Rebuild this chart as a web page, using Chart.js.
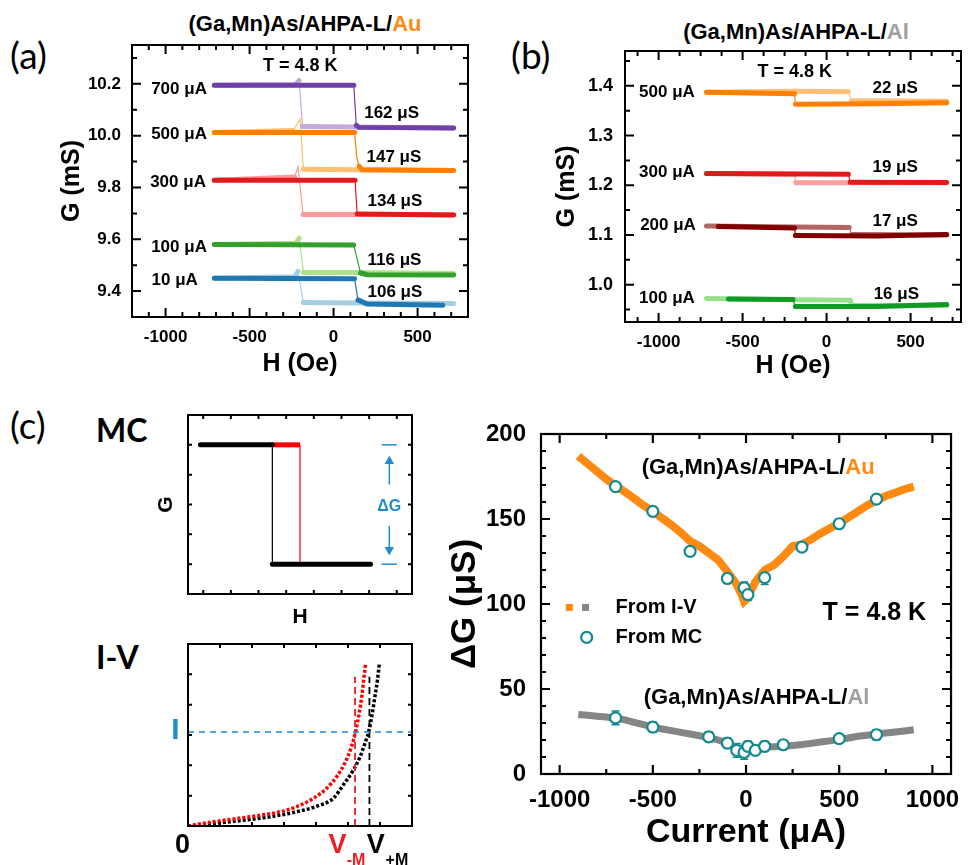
<!DOCTYPE html>
<html>
<head>
<meta charset="utf-8">
<script src="https://cdn.jsdelivr.net/npm/chart.js@4.4.0/dist/chart.umd.min.js"></script>
<style>
  body { margin: 0; background: #fff; }
  #fig { position: relative; width: 972px; height: 865px; overflow: hidden; background: #fff;
         font-family: "Liberation Sans", Arial, sans-serif; }
  canvas { position: absolute; }
  .lbl { position: absolute; white-space: nowrap; line-height: 1; color: #000; }
  .panel { font-family: Lato, "Open Sans", sans-serif; font-size: 37px; }
  .big { font-family: Lato, "Open Sans", sans-serif; font-size: 32px; font-weight: bold; }
  .ttl { font-weight: bold; font-size: 22px; transform: translateX(-50%); }
</style>
</head>
<body>
<div id="fig">
  <div class="lbl panel" style="left:10px;top:36px">(a)</div>
  <div class="lbl panel" style="left:511px;top:36px">(b)</div>
  <div class="lbl panel" style="left:10px;top:406px">(c)</div>
  <div class="lbl big" style="left:96px;top:414px">MC</div>
  <div class="lbl big" style="left:96px;top:641px">I-V</div>
  <div class="lbl ttl" style="left:305px;top:13px">(Ga,Mn)As/AHPA-L/<span style="color:#ff8a12">Au</span></div>
  <div class="lbl ttl" style="left:796px;top:21px">(Ga,Mn)As/AHPA-L/<span style="color:#a0a0a0">Al</span></div>

  <canvas id="chartA" width="490" height="385" style="left:0;top:0"></canvas>
  <canvas id="chartB" width="482" height="385" style="left:490px;top:0"></canvas>
  <canvas id="chartMC" width="270" height="230" style="left:150px;top:400px"></canvas>
  <canvas id="chartIV" width="270" height="235" style="left:150px;top:630px"></canvas>
  <canvas id="chartDG" width="532" height="465" style="left:440px;top:400px"></canvas>
</div>

<script>
const FONT = '"Liberation Sans", Arial, sans-serif';

// ---- panel (a): G vs H, Au contact. [H (Oe), G (mS)]
const fieldTicks = [-1000, -500, 0, 500];
const gTicksA = [9.4, 9.6, 9.8, 10.0, 10.2];

const a700Up = [[-710, 10.195], [120, 10.195], [135, 10.04], [150, 10.032], [715, 10.03]];
const a700Down = [[715, 10.03], [140, 10.033], [-185, 10.035], [-205, 10.213], [-228, 10.197], [-710, 10.195]];
const a500Up = [[-710, 10.012], [125, 10.012], [138, 9.914], [152, 9.882], [170, 9.868], [715, 9.866]];
const a500Down = [[715, 9.866], [140, 9.868], [-180, 9.87], [-200, 10.064], [-240, 10.02], [-710, 10.012]];
const a300Up = [[-710, 9.828], [128, 9.828], [140, 9.698], [715, 9.694]];
const a300Down = [[715, 9.695], [140, 9.696], [-182, 9.696], [-212, 9.88], [-232, 9.84], [-710, 9.828]];
const a100Up = [[-710, 9.58], [120, 9.578], [160, 9.47], [200, 9.463], [715, 9.462]];
const a100Down = [[715, 9.468], [140, 9.472], [-180, 9.472], [-205, 9.604], [-225, 9.585], [-710, 9.58]];
const a10Up = [[-710, 9.45], [125, 9.448], [145, 9.366], [200, 9.35], [650, 9.345]];
const a10Down = [[715, 9.352], [140, 9.354], [-180, 9.356], [-212, 9.476], [-230, 9.455], [-710, 9.45]];

// ---- panel (b): G vs H, Al contact
const gTicksB = [1.0, 1.1, 1.2, 1.3, 1.4];

const b500Up = [[-715, 1.387], [-190, 1.384], [-186, 1.363], [300, 1.364], [715, 1.366]];
const b500Down = [[715, 1.369], [150, 1.37], [128, 1.388], [-186, 1.389], [-715, 1.387]];
const b300Up = [[-715, 1.2235], [130, 1.222], [140, 1.206], [715, 1.2055]];
const b300Down = [[715, 1.205], [140, 1.205], [-183, 1.205], [-186, 1.222], [-715, 1.2235]];
const b200Up = [[-645, 1.117], [-190, 1.114], [-186, 1.099], [300, 1.098], [715, 1.101]];
const b200Down = [[715, 1.1], [150, 1.101], [135, 1.115], [-186, 1.116], [-715, 1.118]];
const b100Up = [[-585, 0.9715], [-200, 0.97], [-186, 0.956], [300, 0.956], [715, 0.96]];
const b100Down = [[715, 0.958], [150, 0.958], [140, 0.969], [-186, 0.9695], [-715, 0.9725]];

// ---- panel (c) schematics
const mcTicksX = [0, 1, 2, 3, 4, 5, 6, 7];
const mcTicksY = [0, 1, 2, 3, 4];
const mcHighA = [[-0.1, 4], [2.5, 4]];
const mcHighB = [[2.5, 4], [3.5, 4]];
const mcDropA = [[2.5, 4], [2.5, 0]];
const mcDropB = [[3.5, 4], [3.5, 0]];
const mcLow = [[2.5, 0], [6.05, 0]];
const dgTop = [[6.45, 4], [7.0, 4]];
const dgBottom = [[6.45, 0], [7.0, 0]];
const dgUp = [[6.73, 2.67], [6.73, 3.45]];
const dgDown = [[6.73, 1.28], [6.73, 0.48]];

const ivTicksX = [0, 1, 2, 3, 4, 5, 6, 7];
const ivTicksY = [0, 1, 2, 3, 4, 5, 6];
const ivMinus = [[0, 0], [0.79, 0.14], [1.83, 0.29], [2.88, 0.47], [3.4, 0.64], [3.92, 0.91], [4.33, 1.24],
  [4.65, 1.63], [4.9, 2.07], [5.11, 2.62], [5.25, 3.17], [5.35, 3.72], [5.43, 4.26], [5.49, 4.81], [5.55, 5.36]];
const ivPlus = [[0, 0], [1.31, 0.14], [2.35, 0.27], [3.4, 0.47], [4.13, 0.69], [4.54, 0.91], [4.85, 1.35],
  [5.17, 1.85], [5.38, 2.29], [5.53, 2.73], [5.66, 3.17], [5.76, 3.72], [5.84, 4.26], [5.92, 4.81], [5.98, 5.36]];
const biasLine = [[0, 3.1], [7, 3.1]];
const vMinusLine = [[5.22, 0], [5.22, 4.92]];
const vPlusLine = [[5.67, 0], [5.67, 4.92]];

// ---- panel (c) right: dG vs current
const currentTicks = [-1000, -500, 0, 500, 1000];
const dgTicks = [0, 50, 100, 150, 200];
const currentIV = [-900, -850, -800, -750, -700, -650, -600, -550, -500, -450, -400, -350, -300, -250, -200,
  -150, -100, -50, -20, -10, 0, 20, 50, 100, 150, 200, 250, 300, 350, 400, 450, 500, 550, 600, 650, 700,
  750, 800, 850, 900];
const auIV = [187, 182.5, 178, 173.5, 169.5, 166, 162, 158, 154.5, 150.5, 146.5, 142, 137, 134, 130,
  126, 119, 111.5, 104.5, 101.5, 102.5, 106.5, 113, 120, 123, 128, 134, 135, 138, 141.5, 144.5, 147.5,
  151, 154.5, 158, 161, 163.5, 165.5, 167.5, 169];
const alIV = [35, 34.5, 34, 33.5, 33, 31.8, 30.4, 29, 27.6, 26.5, 25.5, 24.5, 23.5, 22.5, 21.6,
  20, 18.2, 15.3, 13.5, 13, 12.7, 13.5, 14.7, 15.9, 16.1, 16.3, 16.8, 17.3, 18, 18.8, 19.5, 20.2,
  21.2, 22.2, 22.8, 23.5, 24.1, 24.7, 25.3, 26];
const currentMCAu = [-700, -500, -300, -100, -10, 10, 100, 300, 500, 700];
const auMC = [169, 154.5, 131, 115, 109.5, 105.5, 115.5, 133.5, 147.2, 161.7];
const auMCErr = [2, 2, 2, 2.5, 3.5, 3.5, 4, 2, 2, 2];
const currentMCAl = [-700, -500, -200, -100, -50, -10, 10, 50, 100, 200, 500, 700];
const alMC = [33, 27.6, 21.8, 18.2, 13.9, 12.7, 16.3, 13.9, 16.3, 17.2, 20.8, 23.1];
const alMCErr = [4, 3, 3, 3, 4, 4, 3, 2, 3, 2, 2, 3];

const ORANGE = '#ff8a12';
const GRAY = '#858585';
const TEAL = '#148a8e';
const BLUE = '#1f8bd0';
const RED = '#ee1c24';

// ---------- helpers ----------
const pts = arr => arr.map(p => ({ x: p[0], y: p[1] }));
const zip = (xs, ys) => xs.map((x, i) => ({ x, y: ys[i] }));

// thick plateaus, thin connecting lines where the curve jumps
function sweep(arr, color, order) {
  return {
    data: pts(arr), showLine: true, borderColor: color, backgroundColor: color,
    pointRadius: 0, borderWidth: 5, borderCapStyle: 'round', order,
    segment: { borderWidth: c => Math.abs(c.p0.y - c.p1.y) > 6 ? 1.2 : 5 }
  };
}

function plain(arr, color, width, extra) {
  return Object.assign({
    data: pts(arr), showLine: true, borderColor: color, backgroundColor: color,
    pointRadius: 0, borderWidth: width
  }, extra || {});
}

// frame with inward tick marks on all four sides
const framePlugin = {
  id: 'frame',
  afterDatasetsDraw(chart, args, o) {
    const { ctx, chartArea: a } = chart;
    const { x, y } = chart.scales;
    ctx.save();
    ctx.strokeStyle = '#000';
    ctx.lineWidth = o.width || 2;
    ctx.beginPath();
    const markX = (v, len) => {
      const p = x.getPixelForValue(v);
      ctx.moveTo(p, a.bottom); ctx.lineTo(p, a.bottom - len);
      ctx.moveTo(p, a.top); ctx.lineTo(p, a.top + len);
    };
    const markY = (v, len) => {
      const p = y.getPixelForValue(v);
      ctx.moveTo(a.left, p); ctx.lineTo(a.left + len, p);
      ctx.moveTo(a.right, p); ctx.lineTo(a.right - len, p);
    };
    x.ticks.forEach(t => markX(t.value, o.major));
    y.ticks.forEach(t => markY(t.value, o.major));
    if (o.minorX) {
      for (let k = Math.ceil(x.min / o.minorX); k * o.minorX <= x.max; k++) markX(k * o.minorX, o.minor);
    }
    if (o.minorY) {
      for (let k = Math.ceil(y.min / o.minorY - 1e-6); k * o.minorY <= y.max + 1e-9; k++) markY(k * o.minorY, o.minor);
    }
    ctx.stroke();
    ctx.lineWidth = o.width || 2;
    ctx.strokeRect(a.left, a.top, a.right - a.left, a.bottom - a.top);
    ctx.restore();
  }
};

// text and legend marks placed in data coordinates
const notesPlugin = {
  id: 'notes',
  afterDraw(chart, args, o) {
    const { ctx } = chart;
    const { x, y } = chart.scales;
    (o.items || []).forEach(n => {
      const px0 = x.getPixelForValue(n.x), py = y.getPixelForValue(n.y);
      ctx.save();
      if (n.shape === 'rect') {
        ctx.fillStyle = n.color;
        ctx.fillRect(px0 - n.size / 2, py - n.size / 2, n.size, n.size);
      } else if (n.shape === 'circle') {
        ctx.beginPath();
        ctx.arc(px0, py, n.size, 0, Math.PI * 2);
        ctx.fillStyle = '#fff'; ctx.fill();
        ctx.strokeStyle = n.color; ctx.lineWidth = 2.2; ctx.stroke();
      } else {
        ctx.font = n.font;
        ctx.textBaseline = 'middle';
        ctx.textAlign = 'left';
        const parts = n.parts || [[n.text, n.color || '#000']];
        const w = parts.reduce((s, p) => s + ctx.measureText(p[0]).width, 0);
        let px = px0;
        if (n.align === 'right') px -= w;
        else if (n.align === 'center') px -= w / 2;
        parts.forEach(([t, c]) => {
          ctx.fillStyle = c;
          ctx.fillText(t, px, py);
          px += ctx.measureText(t).width;
        });
      }
      ctx.restore();
    });
  }
};

// vertical error bars for datasets carrying an `errors` array
const errorPlugin = {
  id: 'errbars',
  beforeDatasetsDraw(chart) {
    const { ctx } = chart;
    const { x, y } = chart.scales;
    chart.data.datasets.forEach(ds => {
      if (!ds.errors) return;
      ctx.save();
      ctx.strokeStyle = ds.borderColor;
      ctx.lineWidth = 1.5;
      ctx.beginPath();
      ds.data.forEach((p, i) => {
        const px = x.getPixelForValue(p.x);
        const top = y.getPixelForValue(p.y + ds.errors[i]);
        const bot = y.getPixelForValue(p.y - ds.errors[i]);
        ctx.moveTo(px, top); ctx.lineTo(px, bot);
        ctx.moveTo(px - 4, top); ctx.lineTo(px + 4, top);
        ctx.moveTo(px - 4, bot); ctx.lineTo(px + 4, bot);
      });
      ctx.stroke();
      ctx.restore();
    });
  }
};

function axis(a, horiz) {
  return {
    type: 'linear',
    min: a.min, max: a.max,
    afterFit: s => { if (horiz) s.height = a.size; else s.width = a.size; },
    afterBuildTicks: s => { s.ticks = a.ticks.map(v => ({ value: v })); },
    grid: { display: false, drawTicks: false },
    border: { display: false },
    ticks: {
      display: a.font !== undefined, padding: a.pad || 0, color: '#000', autoSkip: false, maxRotation: 0,
      font: { family: FONT, size: a.font || 12, weight: 'bold' },
      callback: a.fmt || (v => v)
    },
    title: {
      display: !!a.title, text: a.title, color: '#000',
      font: { family: FONT, size: a.titleSize, weight: 'bold' },
      padding: horiz ? { top: 0, bottom: a.titlePad } : { top: a.titlePad, bottom: 0 }
    }
  };
}

function makeChart(id, cfg) {
  return new Chart(document.getElementById(id), {
    type: 'scatter',
    data: { datasets: cfg.datasets },
    options: {
      responsive: false,
      animation: false,
      events: [],
      layout: { padding: cfg.pad },
      plugins: {
        legend: { display: false },
        tooltip: { enabled: false },
        frame: cfg.frame,
        notes: { items: cfg.notes || [] }
      },
      scales: { x: axis(cfg.x, true), y: axis(cfg.y, false) }
    },
    plugins: [errorPlugin, framePlugin, notesPlugin]
  });
}

const fmt1 = v => v.toFixed(1);
const lab = (text, x, y, align, size) => ({ text, x, y, align, font: `bold ${size || 17}px ${FONT}` });

// ---------- (a) ----------
makeChart('chartA', {
  pad: { left: 0, top: 45, right: 22, bottom: 0 },
  x: { min: -1200, max: 800, ticks: fieldTicks, size: 68, font: 17, pad: 10, title: 'H (Oe)', titleSize: 25, titlePad: 6 },
  y: { min: 9.3, max: 10.35, ticks: gTicksA, size: 132, font: 17, pad: 11, fmt: fmt1, title: 'G (mS)', titleSize: 25, titlePad: 57 },
  frame: { width: 2, major: 9, minor: 5, minorX: 100, minorY: 0.1 },
  datasets: [
    sweep(a700Up, '#7040a8', 0), sweep(a700Down, '#c6a9d8', 1),
    sweep(a500Up, '#ff7f00', 0), sweep(a500Down, '#fdbf6f', 1),
    sweep(a300Up, '#e31a1c', 0), sweep(a300Down, '#fb9a99', 1),
    sweep(a100Up, '#33a02c', 0), sweep(a100Down, '#b2df8a', 1),
    sweep(a10Up, '#1f78b4', 0), sweep(a10Down, '#a6cee3', 1)
  ],
  notes: [
    lab('T = 4.8 K', -198, 10.267, 'center', 18),
    lab('700 μA', -754, 10.18, 'right'), lab('500 μA', -754, 10.004, 'right'),
    lab('300 μA', -760, 9.82, 'right'), lab('100 μA', -754, 9.57, 'right'),
    lab('10 μA', -808, 9.44, 'right'),
    lab('162 μS', 182, 10.087, 'left'), lab('147 μS', 196, 9.918, 'left'),
    lab('134 μS', 202, 9.747, 'left'), lab('116 μS', 202, 9.52, 'left'),
    lab('106 μS', 202, 9.395, 'left')
  ]
});

// ---------- (b) ----------
makeChart('chartB', {
  pad: { left: 0, top: 51, right: 11, bottom: 0 },
  x: { min: -1200, max: 800, ticks: fieldTicks, size: 63, font: 17, pad: 10, title: 'H (Oe)', titleSize: 25, titlePad: 4 },
  y: { min: 0.925, max: 1.47, ticks: gTicksB, size: 135, font: 18, pad: 12, fmt: fmt1, title: 'G (mS)', titleSize: 25, titlePad: 62 },
  frame: { width: 2, major: 9, minor: 5, minorX: 125, minorY: 0.05 },
  datasets: [
    sweep(b500Up, '#ff7f00', 0), sweep(b500Down, '#ffbe73', 1),
    sweep(b300Up, '#e31a1c', 0), sweep(b300Down, '#fc9f9f', 1),
    sweep(b200Up, '#800000', 0), sweep(b200Down, '#b26666', 1),
    sweep(b100Up, '#0f9a26', 0), sweep(b100Down, '#94e08f', 1)
  ],
  notes: [
    lab('T = 4.8 K', -190, 1.4268, 'center', 18),
    lab('500 μA', -784, 1.3865, 'right'), lab('300 μA', -784, 1.2256, 'right'),
    lab('200 μA', -778, 1.12, 'right'), lab('100 μA', -784, 0.972, 'right'),
    lab('22 μS', 543, 1.3946, 'right'), lab('19 μS', 543, 1.2356, 'right'),
    lab('17 μS', 543, 1.127, 'right'), lab('16 μS', 550, 0.981, 'right')
  ]
});

// ---------- (c) MC schematic ----------
makeChart('chartMC', {
  pad: { left: 0, top: 15, right: 8, bottom: 0 },
  x: { min: -0.55, max: 7.55, ticks: mcTicksX, size: 36, title: 'H', titleSize: 21, titlePad: 0 },
  y: { min: -1, max: 5, ticks: mcTicksY, size: 38, title: 'G', titleSize: 21, titlePad: 4 },
  frame: { width: 2, major: 4, minor: 0 },
  datasets: [
    plain(mcHighA, '#000', 5, { borderCapStyle: 'round' }),
    plain(mcLow, '#000', 5, { borderCapStyle: 'round' }),
    plain(mcHighB, '#ff0000', 5),
    plain(mcDropA, '#000', 1.2),
    plain(mcDropB, '#ff0000', 1.2),
    plain(dgTop, BLUE, 1.5),
    plain(dgBottom, BLUE, 1.5),
    plain(dgUp, BLUE, 1.5, { pointRadius: [0, 4], pointStyle: 'triangle', pointRotation: 0 }),
    plain(dgDown, BLUE, 1.5, { pointRadius: [0, 4], pointStyle: 'triangle', pointRotation: 180 })
  ],
  notes: [{ parts: [['ΔG', BLUE]], x: 6.73, y: 1.94, align: 'center', font: `bold 16px ${FONT}` }]
});

// ---------- (c) I-V schematic ----------
makeChart('chartIV', {
  pad: { left: 0, top: 14, right: 8, bottom: 0 },
  x: { min: 0, max: 7, ticks: ivTicksX, size: 39 },
  y: { min: 0, max: 6, ticks: ivTicksY, size: 38 },
  frame: { width: 2, major: 4, minor: 0 },
  datasets: [
    plain(biasLine, BLUE, 1.6, { borderDash: [6, 5] }),
    plain(vMinusLine, RED, 1.8, { borderDash: [7, 4] }),
    plain(vPlusLine, '#000', 1.8, { borderDash: [7, 4] }),
    plain(ivMinus, '#ff0000', 3.5, { borderDash: [3, 2], cubicInterpolationMode: 'monotone' }),
    plain(ivPlus, '#000', 3.5, { borderDash: [3, 2], cubicInterpolationMode: 'monotone' })
  ],
  notes: [
    { parts: [['0', '#000']], x: -0.17, y: -0.63, align: 'center', font: `bold 27px ${FONT}` },
    { parts: [['V', RED]], x: 4.67, y: -0.63, align: 'center', font: `bold 27px ${FONT}` },
    { parts: [['-M', RED]], x: 5.25, y: -1.15, align: 'center', font: `bold 16px ${FONT}` },
    { parts: [['V', '#000']], x: 5.87, y: -0.63, align: 'center', font: `bold 27px ${FONT}` },
    { parts: [['+M', '#000']], x: 6.53, y: -1.15, align: 'center', font: `bold 16px ${FONT}` },
    { parts: [['I', BLUE]], x: -0.39, y: 3.13, align: 'center', font: `bold 30px ${FONT}` }
  ]
});

// ---------- (c) dG vs current ----------
makeChart('chartDG', {
  pad: { left: 0, top: 34, right: 20, bottom: 0 },
  x: { min: -1100, max: 1100, ticks: currentTicks, size: 91, font: 24, pad: 12, title: 'Current (μA)', titleSize: 34, titlePad: 12 },
  y: { min: 0, max: 200, ticks: dgTicks, size: 101, font: 24, pad: 15, title: 'ΔG (μS)', titleSize: 35, titlePad: 4 },
  frame: { width: 2.2, major: 9, minor: 5, minorX: 250, minorY: 10 },
  datasets: [
    { data: zip(currentMCAu, auMC), errors: auMCErr, borderColor: TEAL, backgroundColor: '#fff',
      pointRadius: 5.5, borderWidth: 2.2, pointStyle: 'circle' },
    { data: zip(currentMCAl, alMC), errors: alMCErr, borderColor: TEAL, backgroundColor: '#fff',
      pointRadius: 5.5, borderWidth: 2.2, pointStyle: 'circle' },
    { data: zip(currentIV, auIV), showLine: true, borderColor: ORANGE, borderWidth: 8, pointRadius: 0 },
    { data: zip(currentIV, alIV), showLine: true, borderColor: GRAY, borderWidth: 7, pointRadius: 0 }
  ],
  notes: [
    { parts: [['(Ga,Mn)As/AHPA-L/', '#000'], ['Au', ORANGE]], x: -560, y: 180, font: `bold 22px ${FONT}` },
    { parts: [['(Ga,Mn)As/AHPA-L/', '#000'], ['Al', '#a0a0a0']], x: -549, y: 44.5, font: `bold 22px ${FONT}` },
    { text: 'T = 4.8 K', x: 411, y: 94.5, font: `bold 25px ${FONT}` },
    { shape: 'rect', x: -948, y: 98, size: 7, color: ORANGE },
    { shape: 'rect', x: -861, y: 98, size: 7, color: GRAY },
    { text: 'From I-V', x: -700, y: 98, font: `bold 20px ${FONT}` },
    { shape: 'circle', x: -855, y: 80.4, size: 5.5, color: TEAL },
    { text: 'From MC', x: -700, y: 80.4, font: `bold 20px ${FONT}` }
  ]
});
</script>
</body>
</html>
